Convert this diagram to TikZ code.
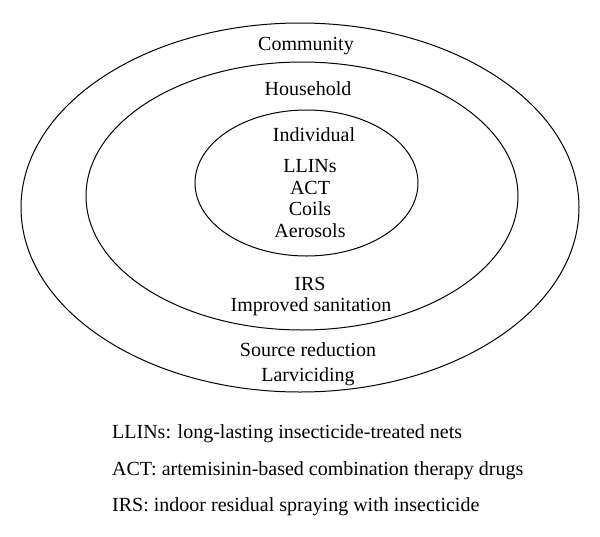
\documentclass[tikz,border=0pt]{standalone}
\usepackage{fontspec}
\setmainfont{Liberation Serif}
\usepackage{tikz}
\tikzset{
  ring/.style={line width=1pt},
  lbl/.style={font=\fontsize{20}{21}\selectfont, inner sep=0pt, anchor=base},
  note/.style={font=\fontsize{20}{21}\selectfont, inner sep=0pt, anchor=base west}
}
\begin{document}
\begin{tikzpicture}[x=1pt, y=-1pt, line join = round, line cap = round]
\useasboundingbox (0,0) rectangle (600,536);

% centres
\coordinate (c0) at (300,207.5);
\coordinate (c1) at (302,196);
\coordinate (c2) at (306.5,183);

% rings
\draw[ring] (c0) ellipse [x radius=279, y radius=184.5];
\draw[ring] (c1) ellipse [x radius=216, y radius=134];
\draw[ring] (c2) ellipse [x radius=111.5, y radius=73];

% community
\node[lbl] (community) at (306,50.7) {Community};
\node[lbl] (source) at (308,356) {Source reduction};
\node[lbl] (larv) at (308,381) {Larviciding};
% household
\node[lbl] (household) at (308,95.7) {Household};
\node[lbl] (irs) at (310,290.5) {IRS};
\node[lbl] (sanit) at (311,311) {Improved sanitation};
% individual
\node[lbl] (individual) at (314,141.7) {Individual};
\node[lbl] (llins) at (310,172.7) {LLINs};
\node[lbl] (act) at (310,194.2) {ACT};
\node[lbl] (coils) at (310,215.5) {Coils};
\node[lbl] (aero) at (310,237) {Aerosols};

% legend
\node[note] (n1) at (112,438.5) {LLINs: long-lasting insecticide-treated nets};
\node[note] (n2) at (112,475) {ACT: artemisinin-based combination therapy drugs};
\node[note] (n3) at (112,511.5) {IRS: indoor residual spraying with insecticide};
\end{tikzpicture}
\end{document}
